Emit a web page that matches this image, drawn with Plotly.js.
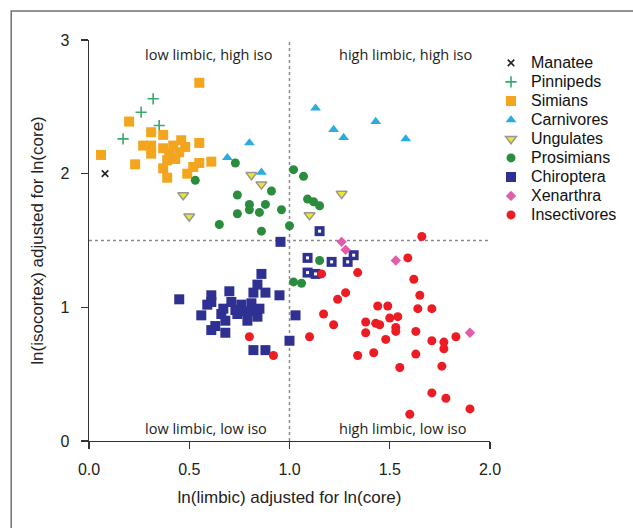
<!DOCTYPE html>
<html><head><meta charset="utf-8">
<script src="https://cdn.plot.ly/plotly-3.0.1.min.js"></script>
<style>html,body{margin:0;padding:0;background:#fff}#chart{width:633px;height:528px}</style>
</head><body><div id="chart"></div><script>
// ---- data ----
const manateeX = [0.08];
const manateeY = [2.00];
const pinnipedsX = [0.32, 0.26, 0.35, 0.17];
const pinnipedsY = [2.56, 2.46, 2.36, 2.26];
const simiansX = [0.55,0.20,0.06,0.23,0.31,0.37,0.27,0.31,0.31,0.37,0.40,0.46,0.48,0.45,0.55,0.43,0.39,0.37,0.39,0.52,0.49,0.55,0.61,0.42];
const simiansY = [2.68,2.39,2.14,2.07,2.31,2.29,2.21,2.21,2.15,2.19,2.15,2.25,2.20,2.16,2.23,2.11,2.10,2.04,1.97,2.05,2.00,2.08,2.09,2.21];
const carnivoresX = [0.69,0.80,0.86,1.13,1.22,1.27,1.43,1.58];
const carnivoresY = [2.12,2.23,2.01,2.49,2.33,2.27,2.39,2.26];
const ungulatesX = [0.47,0.50,0.81,0.86,1.26,1.10];
const ungulatesY = [1.84,1.68,1.99,1.92,1.85,1.69];
const prosimiansX = [0.73,0.53,0.74,0.91,0.80,0.88,0.80,0.85,0.74,0.96,0.65,0.86,1.00,1.02,1.07,1.09,1.12,1.15,1.15,1.02,1.06];
const prosimiansY = [2.08,1.95,1.84,1.87,1.77,1.77,1.73,1.71,1.70,1.73,1.62,1.57,1.61,2.03,1.98,1.81,1.79,1.76,1.35,1.19,1.18];
const chiropteraX = [0.955,0.86,0.45,0.61,0.70,0.84,0.82,0.88,0.95,0.59,0.71,0.76,0.81,0.67,0.73,0.78,0.82,0.56,0.66,0.79,0.84,0.68,0.63,0.61,0.68,0.82,0.88,1.00,1.03,0.61,0.74,0.85];
const chiropteraY = [1.49,1.25,1.06,1.09,1.12,1.17,1.11,1.11,1.09,1.02,1.04,1.02,1.03,0.99,0.98,0.97,0.97,0.94,0.95,0.90,0.93,0.90,0.86,0.83,0.81,0.68,0.68,0.75,0.94,1.04,0.95,0.99];
const chiropteraOpenX = [1.15,1.09,1.21,1.29,1.32,1.09,1.13];
const chiropteraOpenY = [1.57,1.37,1.34,1.34,1.39,1.26,1.25];
const xenarthraX = [1.26,1.28,1.53,1.90];
const xenarthraY = [1.49,1.43,1.35,0.81];
const insectivoresX = [0.80,0.92,1.66,1.59,1.16,1.34,1.62,1.28,1.24,1.65,1.17,1.22,1.44,1.49,1.64,1.71,1.38,1.43,1.45,1.50,1.54,1.53,1.53,1.38,1.63,1.10,1.48,1.71,1.77,1.83,1.77,1.34,1.42,1.63,1.55,1.76,1.71,1.78,1.90,1.60];
const insectivoresY = [0.78,0.64,1.53,1.37,1.25,1.26,1.21,1.11,1.06,1.09,0.95,0.87,1.01,1.01,0.99,0.99,0.89,0.88,0.87,0.92,0.93,0.85,0.82,0.81,0.82,0.78,0.76,0.75,0.74,0.78,0.69,0.64,0.66,0.65,0.55,0.56,0.36,0.32,0.24,0.20];
const xTicks = [0, 0.5, 1, 1.5, 2];
const yTicks = [0, 1, 2, 3];
const limbicSplit = 1.0;
const isoSplit = 1.5;
const quadrantLabels = ["low limbic, high iso", "high limbic, high iso", "low limbic, low iso", "high limbic, low iso"];
const quadrantX = [0.60, 1.58, 0.585, 1.565];
const quadrantY = [2.89, 2.89, 0.09, 0.09];

const LF = 'Liberation Sans, Arial, Helvetica, sans-serif';
const nm = s => '<span style="font-size:16px">' + s + '</span>';

const traces = [
  {name: nm('Manatee'), x: manateeX, y: manateeY, mode: 'markers', type: 'scatter', cliponaxis: false,
   marker: {symbol: 'x-thin', size: 6.5, color: '#222', line: {color: '#222', width: 1.6}}},
  {name: nm('Pinnipeds'), x: pinnipedsX, y: pinnipedsY, mode: 'markers', type: 'scatter', cliponaxis: false,
   marker: {symbol: 'cross-thin', size: 8, color: '#36A96B', line: {color: '#36A96B', width: 1.6}}},
  {name: nm('Simians'), x: simiansX, y: simiansY, mode: 'markers', type: 'scatter', cliponaxis: false,
   marker: {symbol: 'square', size: 10, color: '#F3A51E', line: {width: 0}}},
  {name: nm('Carnivores'), x: carnivoresX, y: carnivoresY, mode: 'markers', type: 'scatter', cliponaxis: false,
   marker: {symbol: 'triangle-up', size: 9.5, color: '#2AACE2', line: {width: 0}}},
  {name: nm('Ungulates'), x: ungulatesX, y: ungulatesY, mode: 'markers', type: 'scatter', cliponaxis: false,
   marker: {symbol: 'triangle-down', size: 9.5, color: '#EEE62E', line: {color: '#979797', width: 1.5}}},
  {name: nm('Prosimians'), x: prosimiansX, y: prosimiansY, mode: 'markers', type: 'scatter', cliponaxis: false,
   marker: {symbol: 'circle', size: 9, color: '#2A8C3D', line: {width: 0}}},
  {name: nm('Chiroptera'), x: chiropteraX.concat(chiropteraOpenX), y: chiropteraY.concat(chiropteraOpenY),
   mode: 'markers', type: 'scatter', cliponaxis: false,
   marker: {symbol: 'square', size: 10, color: '#2E3192', line: {width: 0}}},
  {name: 'Chiroptera (open)', showlegend: false, x: chiropteraOpenX, y: chiropteraOpenY,
   mode: 'markers', type: 'scatter', cliponaxis: false, hoverinfo: 'skip',
   marker: {symbol: 'square', size: 3, color: '#ffffff', line: {width: 0}}},
  {name: nm('Xenarthra'), x: xenarthraX, y: xenarthraY, mode: 'markers', type: 'scatter', cliponaxis: false,
   marker: {symbol: 'diamond', size: 8, color: '#E35BAB', line: {width: 0}}},
  {name: nm('Insectivores'), x: insectivoresX, y: insectivoresY, mode: 'markers', type: 'scatter', cliponaxis: false,
   marker: {symbol: 'circle', size: 9, color: '#EC1C24', line: {width: 0}}}
];

const axisCommon = {
  showgrid: false, zeroline: false, showline: true, linecolor: '#333', linewidth: 1.3,
  ticks: 'outside', ticklen: 7, tickwidth: 1.3, tickcolor: '#333',
  tickfont: {family: LF, size: 16, color: '#222'}, fixedrange: true
};

const layout = {
  width: 633, height: 528,
  margin: {l: 89, r: 142, t: 40, b: 87},
  paper_bgcolor: '#fff', plot_bgcolor: '#fff',
  showlegend: true,
  legend: {x: 1.0, xanchor: 'left', y: 0.979, yanchor: 'top', font: {family: LF, size: 12, color: '#111'},
           traceorder: 'normal', tracegroupgap: 0,
           bgcolor: 'rgba(0,0,0,0)', borderwidth: 0, itemclick: false},
  xaxis: Object.assign({}, axisCommon, {range: [0, 2], tickvals: xTicks, tickformat: '.1f', ticklabelstandoff: 6,
     title: {text: 'ln(limbic) adjusted for ln(core)', font: {family: LF, size: 17, color: '#222'}, standoff: 14}}),
  yaxis: Object.assign({}, axisCommon, {range: [0, 3], tickvals: yTicks, ticklabelstandoff: 8,
     title: {text: 'ln(isocortex) adjusted for ln(core)', font: {family: LF, size: 17, color: '#222'}, standoff: 12}}),
  shapes: [
    {type: 'line', xref: 'x', yref: 'y', x0: limbicSplit, x1: limbicSplit, y0: 0, y1: 3,
     line: {color: '#8a8a8a', width: 1.5, dash: 'dot'}, layer: 'below'},
    {type: 'line', xref: 'x', yref: 'y', x0: 0, x1: 2, y0: isoSplit, y1: isoSplit,
     line: {color: '#8a8a8a', width: 1.5, dash: 'dot'}, layer: 'below'},
    {type: 'rect', xref: 'paper', yref: 'paper', x0: -0.194, x1: 1.45, y0: -0.3, y1: 1.0723,
     line: {color: '#707070', width: 1.5}, fillcolor: 'rgba(0,0,0,0)', layer: 'below'}
  ],
  annotations: quadrantLabels.map((t, i) => ({
    text: t, x: quadrantX[i], y: quadrantY[i], xref: 'x', yref: 'y', showarrow: false,
    font: {family: 'Open Sans, Noto Sans, sans-serif', size: 14.5, color: '#222'}
  }))
};

Plotly.newPlot('chart', traces, layout, {displayModeBar: false, staticPlot: true});
</script></body></html>
